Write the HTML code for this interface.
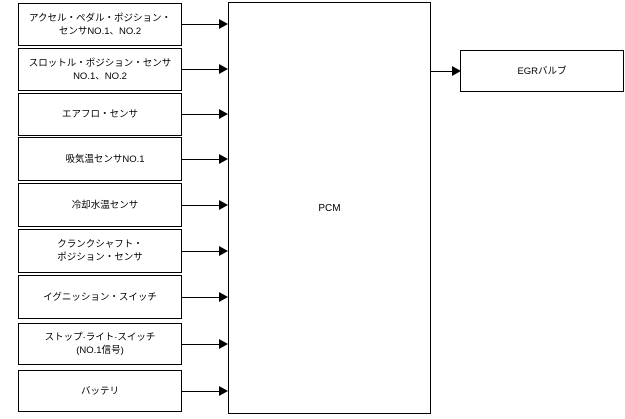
<!DOCTYPE html>
<html><head><meta charset="utf-8"><style>
body{margin:0;width:625px;height:419px;background:#fff;position:relative;overflow:hidden;font-family:"Liberation Sans","Noto Sans CJK JP",sans-serif;}
.b{position:absolute;box-sizing:border-box;border:1px solid #000;display:flex;align-items:center;justify-content:center;text-align:center;font-size:9.5px;line-height:13px;color:#000;}
.l{position:absolute;height:1px;background:#000;}
.a{position:absolute;width:0;height:0;border-top:5px solid transparent;border-bottom:5px solid transparent;border-left:9px solid #000;}
</style></head><body>
<div class="b" style="left:18px;top:3px;width:164px;height:43px">アクセル・ペダル・ポジション・<br>センサNO.1、NO.2</div>
<div class="b" style="left:18px;top:48px;width:164px;height:43px">スロットル・ポジション・センサ<br>NO.1、NO.2</div>
<div class="b" style="left:18px;top:93px;width:164px;height:43px">エアフロ・センサ</div>
<div class="b" style="left:18px;top:137px;width:164px;height:44px"><span style="padding-left:10px">吸気温センサNO.1</span></div>
<div class="b" style="left:18px;top:183px;width:164px;height:44px"><span style="padding-left:10px">冷却水温センサ</span></div>
<div class="b" style="left:18px;top:229px;width:164px;height:44px">クランクシャフト・<br>ポジション・センサ</div>
<div class="b" style="left:18px;top:275px;width:164px;height:44px">イグニッション・スイッチ</div>
<div class="b" style="left:18px;top:323px;width:164px;height:42px">ストップ·ライト·スイッチ<br>(NO.1信号)</div>
<div class="b" style="left:18px;top:370px;width:164px;height:42px">バッテリ</div>
<div class="b" style="left:228px;top:2px;width:203px;height:412px;font-size:10px">PCM</div>
<div class="b" style="left:460px;top:50px;width:164px;height:42px">EGRバルブ</div>
<div class="l" style="left:182px;top:24px;width:38px"></div><div class="a" style="left:219px;top:19px"></div>
<div class="l" style="left:182px;top:69px;width:38px"></div><div class="a" style="left:219px;top:64px"></div>
<div class="l" style="left:182px;top:114px;width:38px"></div><div class="a" style="left:219px;top:109px"></div>
<div class="l" style="left:182px;top:159px;width:38px"></div><div class="a" style="left:219px;top:154px"></div>
<div class="l" style="left:182px;top:205px;width:38px"></div><div class="a" style="left:219px;top:200px"></div>
<div class="l" style="left:182px;top:251px;width:38px"></div><div class="a" style="left:219px;top:246px"></div>
<div class="l" style="left:182px;top:297px;width:38px"></div><div class="a" style="left:219px;top:292px"></div>
<div class="l" style="left:182px;top:344px;width:38px"></div><div class="a" style="left:219px;top:339px"></div>
<div class="l" style="left:182px;top:391px;width:38px"></div><div class="a" style="left:219px;top:386px"></div>
<div class="l" style="left:431px;top:71px;width:22px"></div><div class="a" style="left:452px;top:66px"></div>
</body></html>
